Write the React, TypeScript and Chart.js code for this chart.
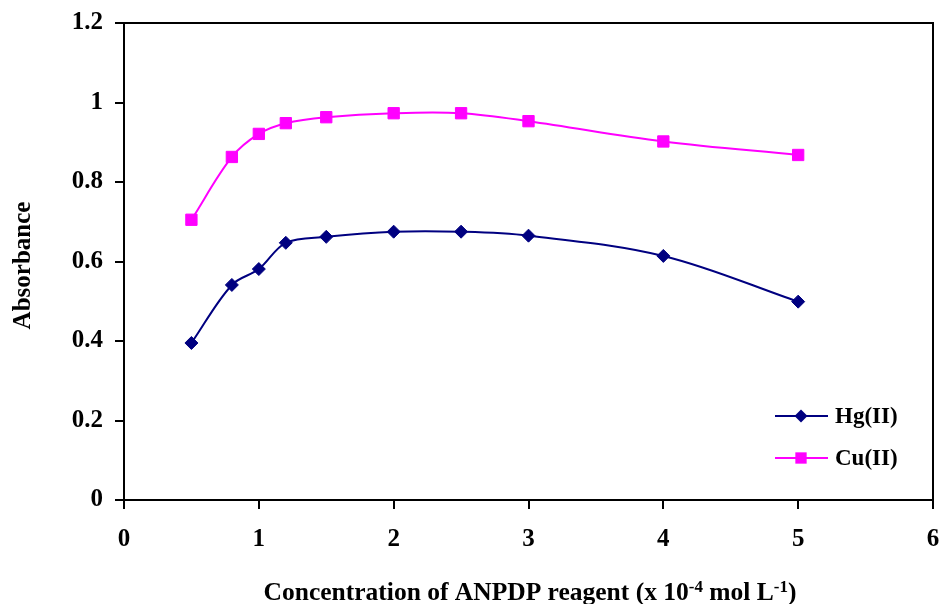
import React, { useEffect, useRef } from "react";
import { Chart, registerables } from "chart.js";

Chart.register(...registerables);

const concentrations = [0.5, 0.8, 1, 1.2, 1.5, 2, 2.5, 3, 4, 5];
const hgValues = [0.395, 0.541, 0.581, 0.647, 0.662, 0.675, 0.675, 0.665, 0.614, 0.499];
const cuValues = [0.705, 0.863, 0.921, 0.948, 0.963, 0.973, 0.973, 0.953, 0.902, 0.868];
const xTickLabels = ["0", "1", "2", "3", "4", "5", "6"];
const seriesNames = ["Hg(II)", "Cu(II)"];
const yTitle = "Absorbance";
const xTitleParts = [
  { t: "Concentration of ANPDP reagent (x 10", sup: false },
  { t: "-4", sup: true },
  { t: " mol L", sup: false },
  { t: "-1", sup: true },
  { t: ")", sup: false },
];

const FONT = '"Liberation Serif", "Times New Roman", serif';
const HG_COLOR = "#000080";
const CU_COLOR = "#FF00FF";

const decorPlugin = {
  id: "decor",
  afterDraw(chart: any) {
    const ctx = chart.ctx;
    const a = chart.chartArea;
    ctx.save();
    ctx.strokeStyle = "#000";
    ctx.lineWidth = 2;
    ctx.beginPath();
    ctx.moveTo(a.left, a.top);
    ctx.lineTo(a.right, a.top);
    ctx.lineTo(a.right, a.bottom);
    ctx.stroke();

    // x tick labels
    ctx.fillStyle = "#000";
    ctx.font = `bold 25px ${FONT}`;
    ctx.textAlign = "center";
    ctx.textBaseline = "middle";
    const xs = chart.scales.x;
    xTickLabels.forEach((lab) => {
      ctx.fillText(lab, xs.getPixelForValue(Number(lab)), a.bottom + 40);
    });

    // y title
    ctx.save();
    ctx.translate(30, (a.top + a.bottom) / 2 + 4);
    ctx.rotate(-Math.PI / 2);
    ctx.textAlign = "center";
    ctx.textBaseline = "alphabetic";
    ctx.fillText(yTitle, 0, 0);
    ctx.restore();

    // x title
    const mainFont = `bold 25.5px ${FONT}`;
    const supFont = `bold 17px ${FONT}`;
    let total = 0;
    for (const p of xTitleParts) {
      ctx.font = p.sup ? supFont : mainFont;
      total += ctx.measureText(p.t).width;
    }
    let x = 530 - total / 2;
    const base = 600;
    ctx.textAlign = "left";
    ctx.textBaseline = "alphabetic";
    for (const p of xTitleParts) {
      ctx.font = p.sup ? supFont : mainFont;
      ctx.fillText(p.t, x, p.sup ? base - 8 : base);
      x += ctx.measureText(p.t).width;
    }

    // legend
    const items = [
      { name: seriesNames[0], color: HG_COLOR, style: "rectRot", r: 6.5, y: 416 },
      { name: seriesNames[1], color: CU_COLOR, style: "rect", r: 8, y: 458 },
    ];
    ctx.font = `bold 23px ${FONT}`;
    for (const it of items) {
      ctx.strokeStyle = it.color;
      ctx.lineWidth = 2;
      ctx.beginPath();
      ctx.moveTo(775, it.y);
      ctx.lineTo(828, it.y);
      ctx.stroke();
      ctx.fillStyle = it.color;
      if (it.style === "rect") {
        const s = it.r * Math.SQRT1_2;
        ctx.fillRect(801 - s, it.y - s, 2 * s, 2 * s);
      } else {
        ctx.beginPath();
        ctx.moveTo(801, it.y - it.r);
        ctx.lineTo(801 + it.r, it.y);
        ctx.lineTo(801, it.y + it.r);
        ctx.lineTo(801 - it.r, it.y);
        ctx.closePath();
        ctx.fill();
      }
      ctx.fillStyle = "#000";
      ctx.textAlign = "left";
      ctx.textBaseline = "middle";
      ctx.fillText(it.name, 835, it.y + 1);
    }
    ctx.restore();
  },
};

export default function App() {
  const ref = useRef<HTMLCanvasElement | null>(null);
  useEffect(() => {
    if (!ref.current) return;
    const chart = new Chart(ref.current, {
      type: "scatter",
      data: {
        datasets: [
          {
            label: seriesNames[0],
            data: concentrations.map((c, i) => ({ x: c, y: hgValues[i] })),
            showLine: true,
            borderColor: HG_COLOR,
            backgroundColor: HG_COLOR,
            borderWidth: 2,
            pointStyle: "rectRot",
            pointRadius: 6.5,
            pointBorderWidth: 1,
            tension: 0.35,
          },
          {
            label: seriesNames[1],
            data: concentrations.map((c, i) => ({ x: c, y: cuValues[i] })),
            showLine: true,
            borderColor: CU_COLOR,
            backgroundColor: CU_COLOR,
            borderWidth: 2,
            pointStyle: "rect",
            pointRadius: 8,
            pointBorderWidth: 1,
            tension: 0.35,
          },
        ],
      },
      options: {
        responsive: false,
        animation: false,
        layout: { padding: { left: 0, right: 4, top: 23, bottom: 0 } },
        plugins: { legend: { display: false }, tooltip: { enabled: false } },
        scales: {
          x: {
            type: "linear",
            min: 0,
            max: 6,
            afterFit(scale: any) {
              scale.height = 104;
              scale.paddingLeft = 0;
              scale.paddingRight = 0;
            },
            ticks: { stepSize: 1, display: false },
            grid: { drawOnChartArea: false, drawTicks: true, tickLength: 9, color: "#000", lineWidth: 2 },
            border: { display: true, color: "#000", width: 2 },
          },
          y: {
            type: "linear",
            min: 0,
            max: 1.2,
            afterFit(scale: any) {
              scale.width = 124;
              scale.paddingTop = 0;
              scale.paddingBottom = 0;
            },
            ticks: {
              stepSize: 0.2,
              color: "#000",
              font: { family: FONT, size: 25, weight: "bold" },
              padding: 12,
              callback: (v: any) => String(Number(Number(v).toFixed(1))),
            },
            grid: { drawOnChartArea: false, drawTicks: true, tickLength: 9, color: "#000", lineWidth: 2 },
            border: { display: true, color: "#000", width: 2 },
          },
        },
      },
      plugins: [decorPlugin],
    });
    return () => chart.destroy();
  }, []);
  return (
    <canvas
      ref={ref}
      width={942}
      height={604}
      style={{ position: "absolute", left: 0, top: 0, width: 942, height: 604 }}
    />
  );
}
